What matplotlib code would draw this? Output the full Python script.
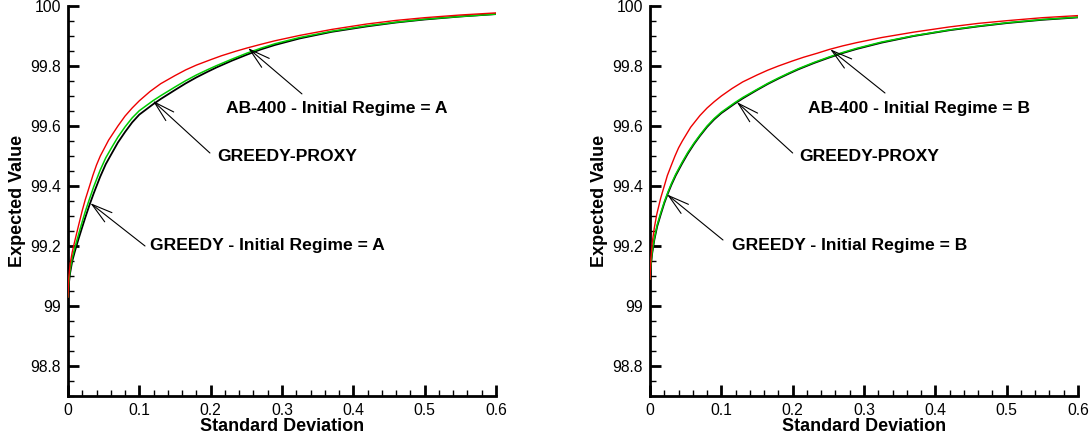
import matplotlib
matplotlib.use('Agg')
import matplotlib.pyplot as plt
from matplotlib.ticker import MultipleLocator, FixedLocator

plt.rcParams['font.family'] = ['Liberation Sans', 'DejaVu Sans']

# frontier samples: standard deviation vs expected value
std_a = [0, 0.001, 0.003, 0.006, 0.0094, 0.015, 0.02, 0.0243, 0.03, 0.035, 0.04, 0.0453, 0.057,
         0.07, 0.08, 0.09, 0.1, 0.115, 0.13, 0.15, 0.165, 0.18, 0.2, 0.215, 0.235, 0.251, 0.27,
         0.29, 0.325, 0.37, 0.419, 0.46, 0.5, 0.55, 0.6]
ab400_a = [99.03, 99.09, 99.14, 99.18, 99.215, 99.27, 99.318, 99.355, 99.398, 99.436, 99.47, 99.50, 99.553,
           99.60, 99.633, 99.66, 99.684, 99.715, 99.741, 99.768, 99.787, 99.803, 99.821, 99.834, 99.849, 99.86, 99.872,
           99.884, 99.902, 99.922, 99.94, 99.952, 99.961, 99.97, 99.977]

std_g = [0, 0.001, 0.003, 0.006, 0.01, 0.015, 0.02, 0.0243, 0.0299, 0.036, 0.045, 0.053, 0.0617,
         0.07, 0.08, 0.09, 0.1, 0.119, 0.13, 0.15, 0.165, 0.18, 0.195, 0.208, 0.23, 0.251, 0.27,
         0.29, 0.325, 0.37, 0.419, 0.46, 0.5, 0.55, 0.6]
greedy_a = [99.03, 99.07, 99.11, 99.15, 99.185, 99.225, 99.263, 99.295, 99.335, 99.375, 99.43, 99.473, 99.51,
            99.545, 99.58, 99.612, 99.638, 99.672, 99.69, 99.72, 99.742, 99.762, 99.78, 99.795, 99.818, 99.838, 99.855,
            99.87, 99.892, 99.914, 99.932, 99.945, 99.955, 99.965, 99.973]
proxy_a = [99.03, 99.075, 99.12, 99.16, 99.198, 99.24, 99.281, 99.315, 99.355, 99.397, 99.452, 99.494, 99.53,
           99.563, 99.597, 99.627, 99.651, 99.684, 99.701, 99.73, 99.751, 99.77, 99.787, 99.801, 99.823, 99.843, 99.859,
           99.874, 99.895, 99.916, 99.934, 99.946, 99.956, 99.965, 99.973]

std_b = [0, 0.001, 0.003, 0.006, 0.0094, 0.015, 0.02, 0.0243, 0.03, 0.035, 0.04, 0.0453, 0.057,
         0.07, 0.08, 0.09, 0.1, 0.115, 0.13, 0.15, 0.165, 0.18, 0.2, 0.215, 0.235, 0.251, 0.27,
         0.29, 0.325, 0.37, 0.419, 0.46, 0.5, 0.55, 0.6]
ab400_b = [99.09, 99.15, 99.21, 99.26, 99.305, 99.36, 99.40, 99.435, 99.47, 99.50, 99.527, 99.55, 99.596,
           99.635, 99.66, 99.681, 99.70, 99.725, 99.747, 99.77, 99.786, 99.80, 99.817, 99.829, 99.843, 99.855, 99.867,
           99.878, 99.895, 99.913, 99.93, 99.942, 99.951, 99.961, 99.968]

std_gb = [0, 0.001, 0.003, 0.006, 0.01, 0.015, 0.02, 0.025, 0.03, 0.036, 0.045, 0.053, 0.0617,
          0.07, 0.08, 0.09, 0.1, 0.119, 0.13, 0.15, 0.165, 0.18, 0.195, 0.208, 0.23, 0.251, 0.27,
          0.29, 0.325, 0.37, 0.419, 0.46, 0.5, 0.55, 0.6]
greedy_b = [99.09, 99.13, 99.175, 99.22, 99.265, 99.305, 99.343, 99.375, 99.404, 99.435, 99.475, 99.508, 99.54,
            99.567, 99.597, 99.622, 99.643, 99.675, 99.692, 99.72, 99.74, 99.758, 99.775, 99.789, 99.81, 99.828, 99.843,
            99.857, 99.878, 99.90, 99.919, 99.932, 99.943, 99.954, 99.962]
proxy_b = [99.09, 99.134, 99.18, 99.225, 99.27, 99.31, 99.347, 99.379, 99.408, 99.439, 99.479, 99.512, 99.543,
           99.57, 99.60, 99.625, 99.646, 99.678, 99.695, 99.722, 99.742, 99.76, 99.777, 99.791, 99.812, 99.83, 99.845,
           99.859, 99.88, 99.901, 99.92, 99.933, 99.944, 99.955, 99.963]

y_ticks = [98.8, 99.0, 99.2, 99.4, 99.6, 99.8, 100.0]
y_tick_labels = ['98.8', '99', '99.2', '99.4', '99.6', '99.8', '100']
x_ticks = [0, 0.1, 0.2, 0.3, 0.4, 0.5, 0.6]
x_tick_labels = ['0', '0.1', '0.2', '0.3', '0.4', '0.5', '0.6']

# (label, arrow tip, arrow tail, text anchor)
notes_a = [
    ('AB-400 - Initial Regime = A', (0.2524, 99.86), (0.328, 99.707), (0.2215, 99.657)),
    ('GREEDY-PROXY', (0.119, 99.684), (0.199, 99.51), (0.2089, 99.497)),
    ('GREEDY - Initial Regime = A', (0.0313, 99.343), (0.108, 99.20), (0.115, 99.203)),
]
notes_b = [
    ('AB-400 - Initial Regime = B', (0.2525, 99.856), (0.3294, 99.71), (0.2215, 99.657)),
    ('GREEDY-PROXY', (0.1216, 99.68), (0.200, 99.51), (0.2089, 99.497)),
    ('GREEDY - Initial Regime = B', (0.0238, 99.372), (0.1023, 99.22), (0.1149, 99.203)),
]

fig = plt.figure(figsize=(10.91, 4.38), dpi=100)
ax1 = fig.add_axes([0.0623, 0.0959, 0.3923, 0.8904])
ax2 = fig.add_axes([0.5958, 0.0959, 0.3923, 0.8904])


def draw_panel(ax, xr, yr, xg, yg, yp, notes):
    ax.plot(xg, yg, color='black', lw=1.3, zorder=3)
    ax.plot(xg, yp, color='#00cc00', lw=1.1, zorder=4)
    ax.plot(xr, yr, color='#ee0000', lw=1.0, zorder=5)

    ax.set_xlim(0, 0.6)
    ax.set_ylim(98.7, 100)
    for side in ['top', 'right']:
        ax.spines[side].set_visible(False)
    for side in ['left', 'bottom']:
        ax.spines[side].set_linewidth(2)
        ax.spines[side].set_color('black')

    ax.yaxis.set_major_locator(FixedLocator(y_ticks))
    ax.set_yticklabels(y_tick_labels)
    ax.yaxis.set_minor_locator(MultipleLocator(0.05))
    ax.xaxis.set_major_locator(FixedLocator(x_ticks))
    ax.set_xticklabels(x_tick_labels)
    ax.xaxis.set_minor_locator(MultipleLocator(0.02))
    ax.tick_params(which='major', direction='in', length=8, width=2, labelsize=11.3, pad=5)
    ax.tick_params(which='minor', direction='in', length=4.5, width=1)

    ax.set_xlabel('Standard Deviation', fontsize=13, fontweight='bold', labelpad=0)
    ax.set_ylabel('Expected Value', fontsize=13, fontweight='bold', labelpad=3)

    for label, tip, tail, pos in notes:
        ax.annotate('', xy=tip, xytext=tail,
                    arrowprops=dict(arrowstyle='->,head_length=1.0,head_width=0.28',
                                    color='black', lw=0.8, shrinkA=0, shrinkB=0,
                                    mutation_scale=15), zorder=6)
        ax.text(pos[0], pos[1], label, ha='left', va='center',
                fontsize=12.6, fontweight='bold', zorder=6)


draw_panel(ax1, std_a, ab400_a, std_g, greedy_a, proxy_a, notes_a)
draw_panel(ax2, std_b, ab400_b, std_gb, greedy_b, proxy_b, notes_b)

fig.savefig('out.png', dpi=100)
